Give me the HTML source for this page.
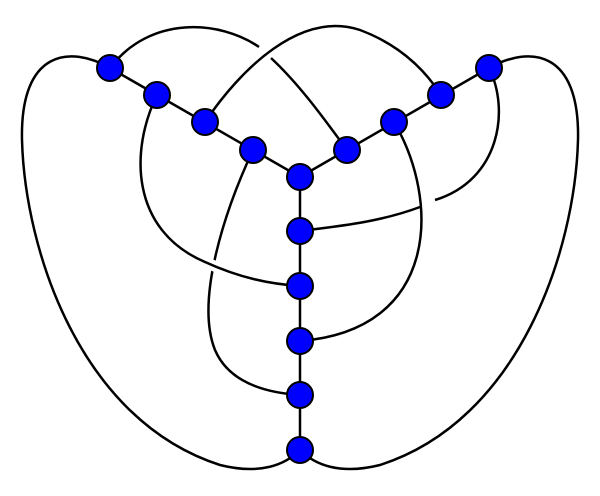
<!DOCTYPE html>
<html><head><style>html,body{margin:0;padding:0;background:#fff;}</style></head>
<body>
<svg width="600" height="491" viewBox="0 0 600 491" xmlns="http://www.w3.org/2000/svg">
<g fill="none" stroke="#000" stroke-width="2.5">
<!-- top arcs -->
<path d="M110,68 C150,15 220,20 259,47"/>
<path d="M271,58 C300,85 325,120 347,150"/>
<path d="M205,122 C240,70 300,10 360,30 C400,45 425,70 441,95"/>
<!-- outer loops -->
<path d="M110,68 C70,45 20,50 22,140 C25,250 80,420 220,465 C260,475 285,465 300,450"/>
<path d="M489,68 C530,45 580,50 578,140 C575,250 520,420 380,465 C340,475 315,465 300,450"/>
<!-- inner curves -->
<path d="M489,68 C510,110 500,180 435,200"/>
<path d="M420,207 C380,222 340,226 300,231"/>
<path d="M394,122 C440,200 440,330 300,341"/>
<path d="M253,150 C225,210 195,300 215,350 C230,385 270,393 300,395"/>
<path d="M157,95 C130,150 130,230 205,262 C240,278 270,284 300,286" stroke="#fff" stroke-width="11"/>
<path d="M157,95 C130,150 130,230 205,262 C240,278 270,284 300,286"/>
<!-- Y -->
<path d="M110,68 L300,177 L489,68 M300,177 L300,450"/>
</g>
<g fill="#0000ff" stroke="#000" stroke-width="2">
<circle cx="110" cy="68" r="13"/><circle cx="157" cy="95" r="13"/><circle cx="205" cy="122" r="13"/><circle cx="253" cy="150" r="13"/><circle cx="300" cy="177" r="13"/><circle cx="347" cy="150" r="13"/><circle cx="394" cy="122" r="13"/><circle cx="441" cy="95" r="13"/><circle cx="489" cy="68" r="13"/>
<circle cx="300" cy="231" r="13"/><circle cx="300" cy="286" r="13"/><circle cx="300" cy="341" r="13"/><circle cx="300" cy="395" r="13"/><circle cx="300" cy="450" r="13"/>
</g>
</svg>
</body></html>
